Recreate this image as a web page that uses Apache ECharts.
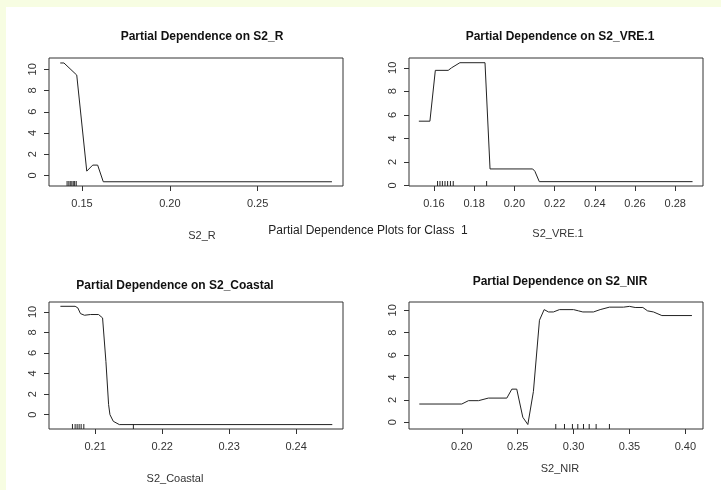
<!DOCTYPE html>
<html>
<head>
<meta charset="utf-8">
<script src="https://cdn.jsdelivr.net/npm/echarts@6/dist/echarts.min.js"></script>
<style>
  html, body { margin: 0; padding: 0; background: #f7fde2; }
  #main { width: 721px; height: 490px; }
</style>
</head>
<body>
<div id="main"></div>
<script>
// partial dependence curves
var rX = [0.1376, 0.1397, 0.147, 0.1527, 0.1561, 0.1589, 0.1621, 0.2923];
var rY = [10.6, 10.6, 9.46, 0.4, 0.97, 0.97, -0.6, -0.6];
var rRug = [0.1415, 0.1425, 0.1433, 0.1442, 0.145, 0.1458, 0.1467];

var vreX = [0.1525, 0.158, 0.1607, 0.1671, 0.1688, 0.1729, 0.1854, 0.1879, 0.2091, 0.2102, 0.2124, 0.2886];
var vreY = [5.46, 5.46, 9.78, 9.78, 10.0, 10.43, 10.43, 1.4, 1.4, 1.2, 0.32, 0.32];
var vreRug = [0.1618, 0.163, 0.1642, 0.1655, 0.1668, 0.1682, 0.1696, 0.1862];

var coastX = [0.2048, 0.207, 0.2074, 0.2078, 0.2084, 0.2093, 0.2105, 0.2111, 0.2116, 0.212, 0.2122, 0.2127, 0.2136, 0.2454];
var coastY = [10.55, 10.55, 10.4, 9.84, 9.68, 9.75, 9.75, 9.42, 5.16, 0.97, 0, -0.65, -0.97, -0.97];
var coastRug = [0.2066, 0.207, 0.2073, 0.2076, 0.2079, 0.2083, 0.2157];

var nirX = [0.162, 0.20, 0.206, 0.215, 0.2238, 0.2403, 0.2448, 0.2492, 0.2546, 0.2591, 0.2641, 0.2695, 0.2737, 0.2776, 0.282, 0.2874, 0.30, 0.3044, 0.3083, 0.3178, 0.3238, 0.3321, 0.3447, 0.35, 0.3551, 0.362, 0.3662, 0.3715, 0.379, 0.4059];
var nirY = [1.63, 1.63, 1.93, 1.93, 2.16, 2.16, 2.96, 2.96, 0.45, -0.2, 2.75, 9.11, 10.06, 9.85, 9.85, 10.06, 10.06, 9.95, 9.85, 9.85, 10.06, 10.28, 10.28, 10.35, 10.25, 10.25, 9.95, 9.85, 9.53, 9.53];
var nirRug = [0.2841, 0.2919, 0.299, 0.3038, 0.3089, 0.314, 0.3202, 0.3321];

var yTicks = [0, 2, 4, 6, 8, 10];
var rTicks = [0.15, 0.20, 0.25];
var vreTicks = [0.16, 0.18, 0.20, 0.22, 0.24, 0.26, 0.28];
var coastTicks = [0.21, 0.22, 0.23, 0.24];
var nirTicks = [0.20, 0.25, 0.30, 0.35, 0.40];

var panels = [
  { name: 'S2_R', x: rX, y: rY, rug: rRug, ticks: rTicks,
    xr: [0.1312, 0.2986], yr: [-1.0, 11.07], grid: { left: 49, top: 58, width: 294, height: 128 },
    title: [197, 26], xname: [197, 225] },
  { name: 'S2_VRE.1', x: vreX, y: vreY, rug: vreRug, ticks: vreTicks,
    xr: [0.1476, 0.2938], yr: [-0.05, 10.83], grid: { left: 409, top: 58, width: 294, height: 128 },
    title: [555, 26], xname: [553, 223] },
  { name: 'S2_Coastal', x: coastX, y: coastY, rug: coastRug, ticks: coastTicks,
    xr: [0.2031, 0.2470], yr: [-1.4, 10.97], grid: { left: 49, top: 302, width: 294, height: 127 },
    title: [170, 275], xname: [170, 468] },
  { name: 'S2_NIR', x: nirX, y: nirY, rug: nirRug, ticks: nirTicks,
    xr: [0.1528, 0.4158], yr: [-0.6, 10.74], grid: { left: 409, top: 302, width: 294, height: 127 },
    title: [555, 271], xname: [555, 458] }
];

var fontFam = '"Liberation Sans", Arial, sans-serif';
var grids = [], xAxes = [], yAxes = [], series = [], titles = [];

panels.forEach(function (p, i) {
  grids.push(Object.assign({ show: true, borderColor: '#333', borderWidth: 1, backgroundColor: 'transparent' }, p.grid));
  xAxes.push({
    type: 'value', gridIndex: i, min: p.xr[0], max: p.xr[1],
    splitLine: { show: false },
    axisLine: { show: false, onZero: false },
    axisTick: { show: true, length: 5, lineStyle: { color: '#333' }, customValues: p.ticks },
    axisLabel: {
      customValues: p.ticks, color: '#333', fontSize: 11, fontFamily: fontFam, margin: 12,
      formatter: function (v) { return v.toFixed(2); }
    }
  });
  yAxes.push({
    type: 'value', gridIndex: i, min: p.yr[0], max: p.yr[1],
    splitLine: { show: false },
    axisLine: { show: false, onZero: false },
    axisTick: { show: true, length: 5, lineStyle: { color: '#333' }, customValues: yTicks },
    axisLabel: { customValues: yTicks, rotate: 90, color: '#333', fontSize: 11, fontFamily: fontFam, margin: 11 }
  });
  series.push({
    type: 'line', xAxisIndex: i, yAxisIndex: i, symbol: 'none',
    lineStyle: { color: '#222', width: 1 },
    data: p.x.map(function (v, k) { return [v, p.y[k]]; })
  });
  series.push({
    type: 'custom', xAxisIndex: i, yAxisIndex: i,
    data: p.rug.map(function (v) { return [v, p.yr[0]]; }),
    renderItem: function (params, api) {
      var pt = api.coord([api.value(0), api.value(1)]);
      return { type: 'line', shape: { x1: pt[0], y1: pt[1], x2: pt[0], y2: pt[1] - 5 },
        style: { stroke: '#222', lineWidth: 1 } };
    }
  });
  titles.push({
    text: 'Partial Dependence on ' + p.name, left: p.title[0], top: p.title[1], textAlign: 'center',
    textStyle: { fontSize: 12, fontWeight: 'bold', color: '#111', fontFamily: fontFam }
  });
  titles.push({
    text: p.name, left: p.xname[0], top: p.xname[1], textAlign: 'center',
    textStyle: { fontSize: 11, fontWeight: 'normal', color: '#333', fontFamily: fontFam }
  });
});

titles.push({
  text: 'Partial Dependence Plots for Class  1', left: 363, top: 220, textAlign: 'center',
  textStyle: { fontSize: 12, fontWeight: 'normal', color: '#222', fontFamily: fontFam }
});

var chartDom = document.getElementById('main');
var myChart = echarts.init(chartDom, null, { renderer: 'canvas' });

var option = {
  animation: false,
  backgroundColor: '#f7fde2',
  graphic: [{ type: 'rect', left: 6, top: 7, shape: { width: 715, height: 483 }, style: { fill: '#ffffff' }, z: -10 }],
  title: titles,
  grid: grids,
  xAxis: xAxes,
  yAxis: yAxes,
  series: series
};

myChart.setOption(option);
</script>
</body>
</html>
